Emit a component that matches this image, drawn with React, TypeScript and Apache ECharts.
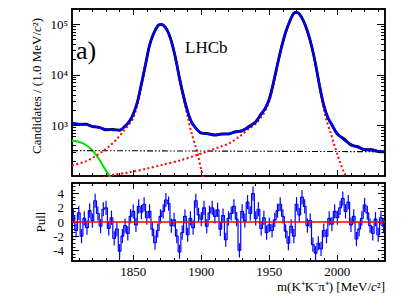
import React, { useEffect, useRef } from "react";
import * as echarts from "echarts";

// ---------- data ----------
const massPoints = [
  1805, 1810, 1815, 1820, 1825, 1830, 1835, 1840, 1844, 1847, 1850, 1853, 1856, 1859, 1862, 1865,
  1868, 1870, 1872, 1875, 1878, 1881, 1884, 1887, 1890, 1893, 1896, 1900, 1905, 1910, 1915, 1920,
  1925, 1930, 1935, 1940, 1944, 1947, 1950, 1953, 1956, 1959, 1962, 1965, 1968, 1970, 1972, 1975,
  1978, 1981, 1984, 1987, 1990, 1993, 1996, 2000, 2005, 2010, 2015, 2020, 2025, 2030, 2035,
];
const fitCounts = [
  1100, 1070, 1030, 970, 900, 840, 810, 820, 950, 1200, 1650, 2900, 6500, 16000, 38000, 66000,
  92000, 100000, 96000, 76000, 46000, 22000, 8500, 3800, 1850, 1150, 870, 720, 670, 655, 665, 690,
  730, 800, 920, 1200, 1650, 2200, 3300, 7000, 16000, 36000, 69000, 115000, 165000, 172000, 160000, 118000,
  72000, 38000, 16000, 6000, 2500, 1450, 1000, 690, 510, 425, 365, 338, 322, 312, 305,
];
const dataCounts = [
  1130, 1050, 1060, 950, 920, 820, 830, 800, 970, 1180, 1680, 2850, 6600, 15800, 38500, 65500,
  92500, 99500, 96500, 75500, 46500, 21800, 8600, 3750, 1880, 1130, 890, 700, 690, 640, 680, 675,
  750, 780, 950, 1170, 1690, 2170, 3350, 6900, 16200, 35600, 69500, 114500, 165500, 171500, 160500, 117500,
  72500, 37600, 16200, 5900, 2530, 1420, 1030, 670, 540, 410, 380, 330, 330, 305, 300,
];
const sigDpMass = [
  1805, 1815, 1821, 1827, 1833, 1838, 1843, 1847, 1850, 1853, 1856, 1859, 1862, 1865, 1868, 1870,
  1872, 1875, 1878, 1881, 1884, 1887, 1890, 1893, 1896, 1898, 1900, 1902,
];
const sigDpCounts = [
  160, 195, 235, 300, 400, 540, 780, 1050, 1400, 2500, 6100, 15500, 37500, 65500, 91500, 99500,
  95500, 75500, 45500, 21500, 8000, 3400, 1450, 680, 370, 230, 130, 88,
];
const sigDsMass = [
  1828, 1835, 1847, 1860, 1871, 1885, 1896, 1905, 1913, 1921, 1928, 1934, 1940, 1944, 1947, 1950,
  1953, 1956, 1959, 1962, 1965, 1968, 1970, 1972, 1975, 1978, 1981, 1984, 1987, 1990, 1992, 1995,
  1997, 2000, 2002, 2004.5, 2007,
];
const sigDsCounts = [
  95, 105, 118, 140, 165, 205, 255, 310, 370, 450, 600, 820, 1080, 1450, 1950, 3000,
  6600, 15600, 35500, 68500, 114500, 164500, 171500, 159500, 117500, 71500, 37500, 15600, 5600, 2100, 1250, 720,
  480, 265, 185, 125, 90,
];
const partRecoMass = [1805, 1810, 1815, 1820, 1824, 1828, 1831, 1834];
const partRecoCounts = [500, 475, 415, 320, 235, 155, 115, 90];
const combMass = [1805, 2035];
const combCounts = [318, 302];

const pullStart = 1805;
const pullBinWidth = 2;
const pullValues = [
  0.8, -1.2, 1.3, -2.0, 0.5, -0.8, 1.6, 0.2, 3.0, 1.2,
  -0.6, 1.8, 2.0, -0.9, 0.6, -2.3, -1.0, -4.1, -2.0, -0.5,
  -1.6, 0.8, 1.5, -0.4, 2.2, 1.4, 2.5, 0.6, 1.5, -1.0,
  -2.9, -1.2, 0.8, 1.5, 3.1, 2.6, -0.5, 0.3, -2.0, -4.2,
  -1.5, 0.8, -1.8, 0.5, -0.8, 3.0, 1.0, 0.4, 2.0, -0.6,
  1.3, 2.0, 0.8, 1.7, -1.0, 0.9, -2.5, 0.5, 1.2, 2.2,
  0.4, -4.0, 1.5, 0.2, 2.8, 1.2, 4.0, 0.5, 1.8, -0.9,
  0.6, -1.5, -0.4, -1.2, 0.3, 1.6, 2.5, 0.8, -1.3, -3.0,
  -0.6, -2.0, 2.5, 1.0, 3.5, 2.2, -0.5, 0.2, -3.2, -4.4,
  -3.0, -3.8, -1.2, -2.0, 0.5, -0.3, 1.5, 0.6, 2.0, 3.3,
  1.5, 2.8, -0.4, 0.8, -2.4, -1.0, 0.5, 2.4, 1.3, -0.5,
  -1.6, 0.4, -1.8, 0.6, -0.6,
];
const pullError = 1;

// tick values
const xMajorTicks = [1850, 1900, 1950, 2000];
const xMinorTicks = [
  1810, 1820, 1830, 1840, 1860, 1870, 1880, 1890, 1910, 1920, 1930, 1940, 1960, 1970, 1980, 1990,
  2010, 2020, 2030,
];
const yLogMajorTicks = [1000, 10000, 100000];
const yLogMinorTicks = [
  200, 300, 400, 500, 600, 700, 800, 900, 2000, 3000, 4000, 5000, 6000, 7000, 8000, 9000,
  20000, 30000, 40000, 50000, 60000, 70000, 80000, 90000, 200000,
];
const pullMajorTicks = [-4, -2, 0, 2, 4];
const pullMinorTicks = [-5, -4.5, -3.5, -3, -2.5, -1.5, -1, -0.5, 0.5, 1, 1.5, 2.5, 3, 3.5, 4.5, 5];

const FONT = "Liberation Serif";
const SUP: Record<number, string> = { 2: "²", 3: "³", 4: "⁴", 5: "⁵" };

function pairs(xs: number[], ys: number[]) {
  return xs.map((x, i) => [x, ys[i]]);
}

function xAxis(gridIndex: number, position: string, ticks: number[], len: number, labels = false) {
  return {
    type: "value",
    gridIndex,
    position,
    min: 1805,
    max: 2035,
    axisLine: { show: true, onZero: false, lineStyle: { color: "#000", width: 1.5 } },
    axisTick: { show: true, inside: true, length: len, customValues: ticks, lineStyle: { color: "#000", width: 1 } },
    axisLabel: {
      show: labels,
      customValues: ticks,
      margin: 4,
      color: "#000",
      fontFamily: FONT,
      fontSize: 13,
      formatter: (v: number) => String(v),
    },
    splitLine: { show: false },
  };
}

function yLog(gridIndex: number, position: string, ticks: number[], len: number, labels = false) {
  return {
    type: "log",
    logBase: 10,
    gridIndex,
    position,
    min: 100,
    max: 200000,
    axisLine: { show: true, onZero: false, lineStyle: { color: "#000", width: 1.5 } },
    axisTick: { show: true, inside: true, length: len, customValues: ticks, lineStyle: { color: "#000", width: 1 } },
    axisLabel: {
      show: labels,
      customValues: ticks,
      margin: 4,
      color: "#000",
      fontFamily: FONT,
      fontSize: 13,
      formatter: (v: number) => "10" + SUP[Math.round(Math.log10(v))],
    },
    splitLine: { show: false },
  };
}

function yPull(gridIndex: number, position: string, ticks: number[], len: number, labels = false) {
  return {
    type: "value",
    gridIndex,
    position,
    min: -5.5,
    max: 5.5,
    axisLine: { show: true, onZero: false, lineStyle: { color: "#000", width: 1.5 } },
    axisTick: { show: true, inside: true, length: len, customValues: ticks, lineStyle: { color: "#000", width: 1 } },
    axisLabel: {
      show: labels,
      customValues: ticks,
      margin: 8,
      color: "#000",
      fontFamily: FONT,
      fontSize: 13,
      formatter: (v: number) => String(v),
    },
    splitLine: { show: false },
  };
}

export default function App() {
  const ref = useRef<HTMLDivElement>(null);
  useEffect(() => {
    document.body.style.margin = "0";
    const chart = echarts.init(ref.current!, null, { renderer: "svg" });
    const topRect = { left: 72, top: 9, width: 313, height: 167 };
    const botRect = { left: 72, top: 183, width: 313, height: 78 };
    const pullData = pullValues.map((v, i) => [pullStart + pullBinWidth * (i + 0.5), v]);
    const redDot = { color: "#ff0000", width: 2, type: [2, 2.5] as number[] };

    chart.setOption({
      animation: false,
      backgroundColor: "#fff",
      grid: [
        { ...topRect, containLabel: false },
        { ...topRect, containLabel: false },
        { ...botRect, containLabel: false },
        { ...botRect, containLabel: false },
      ],
      xAxis: [
        xAxis(0, "bottom", xMajorTicks, 6),
        xAxis(0, "top", xMajorTicks, 6),
        xAxis(1, "bottom", xMinorTicks, 3),
        xAxis(1, "top", xMinorTicks, 3),
        xAxis(2, "bottom", xMajorTicks, 6, true),
        xAxis(2, "top", xMajorTicks, 6),
        xAxis(3, "bottom", xMinorTicks, 3),
        xAxis(3, "top", xMinorTicks, 3),
      ],
      yAxis: [
        yLog(0, "left", yLogMajorTicks, 8, true),
        yLog(0, "right", yLogMajorTicks, 8),
        yLog(1, "left", yLogMinorTicks, 4),
        yLog(1, "right", yLogMinorTicks, 4),
        yPull(2, "left", pullMajorTicks, 7, true),
        yPull(2, "right", pullMajorTicks, 7),
        yPull(3, "left", pullMinorTicks, 3.5),
        yPull(3, "right", pullMinorTicks, 3.5),
      ],
      series: [
        {
          name: "partially reconstructed",
          type: "line",
          xAxisIndex: 0,
          yAxisIndex: 0,
          data: pairs(partRecoMass, partRecoCounts),
          smooth: 0.3,
          symbol: "none",
          lineStyle: { color: "#00e000", width: 2 },
          z: 2,
        },
        {
          name: "combinatorial",
          type: "line",
          xAxisIndex: 0,
          yAxisIndex: 0,
          data: pairs(combMass, combCounts),
          symbol: "none",
          lineStyle: { color: "#000", width: 1.1, type: [6, 2, 1.5, 2, 1.5, 2] },
          z: 2,
        },
        {
          name: "D+ signal",
          type: "line",
          xAxisIndex: 0,
          yAxisIndex: 0,
          data: pairs(sigDpMass, sigDpCounts),
          smooth: 0.3,
          symbol: "none",
          lineStyle: redDot,
          z: 3,
        },
        {
          name: "Ds signal",
          type: "line",
          xAxisIndex: 0,
          yAxisIndex: 0,
          data: pairs(sigDsMass, sigDsCounts),
          smooth: 0.3,
          symbol: "none",
          lineStyle: redDot,
          z: 3,
        },
        {
          name: "data",
          type: "line",
          xAxisIndex: 0,
          yAxisIndex: 0,
          data: pairs(massPoints, dataCounts),
          smooth: 0.3,
          symbol: "none",
          lineStyle: { color: "#000", width: 2.8 },
          z: 4,
        },
        {
          name: "fit",
          type: "line",
          xAxisIndex: 0,
          yAxisIndex: 0,
          data: pairs(massPoints, fitCounts),
          smooth: 0.3,
          symbol: "none",
          lineStyle: { color: "#0000ff", width: 2.2 },
          z: 5,
        },
        {
          name: "pull",
          type: "line",
          xAxisIndex: 4,
          yAxisIndex: 4,
          data: pullData,
          step: "middle",
          symbol: "none",
          lineStyle: { color: "#0000ff", width: 1.2 },
          markLine: {
            silent: true,
            symbol: "none",
            label: { show: false },
            lineStyle: { color: "#ff0000", width: 1.5, type: "solid" },
            data: [{ yAxis: 0 }],
            z: 10,
          },
          z: 4,
        },
        {
          name: "pull errors",
          type: "custom",
          xAxisIndex: 4,
          yAxisIndex: 4,
          data: pullData,
          clip: true,
          renderItem: (params: any, api: any) => {
            const x = api.value(0);
            const v = api.value(1);
            const p1 = api.coord([x, v - pullError]);
            const p2 = api.coord([x, v + pullError]);
            return {
              type: "line",
              shape: { x1: p1[0], y1: p1[1], x2: p2[0], y2: p2[1] },
              style: { stroke: "#0000ff", lineWidth: 1.2 },
            };
          },
          z: 4,
        },
      ],
      graphic: [
        {
          type: "text",
          x: 36,
          y: 86,
          rotation: Math.PI / 2,
          style: {
            text: "Candidates / (1.0 MeV/{i|c}²)",
            fontFamily: FONT,
            fontSize: 13,
            fill: "#000",
            align: "center",
            verticalAlign: "middle",
            rich: { i: { fontFamily: FONT, fontSize: 13, fontStyle: "italic", fill: "#000" } },
          },
        },
        {
          type: "text",
          x: 40,
          y: 222,
          rotation: Math.PI / 2,
          style: {
            text: "Pull",
            fontFamily: FONT,
            fontSize: 13,
            fill: "#000",
            align: "center",
            verticalAlign: "middle",
          },
        },
        {
          type: "text",
          x: 76,
          y: 50,
          style: {
            text: "a)",
            fontFamily: FONT,
            fontSize: 26,
            fill: "#000",
            align: "left",
            verticalAlign: "middle",
          },
        },
        {
          type: "text",
          x: 185,
          y: 47,
          style: {
            text: "LHCb",
            fontFamily: FONT,
            fontSize: 17,
            fill: "#000",
            align: "left",
            verticalAlign: "middle",
          },
        },
        {
          type: "text",
          x: 385,
          y: 286,
          style: {
            text: "m(K⁺K⁻π⁺) [MeV/{i|c}²]",
            fontFamily: FONT,
            fontSize: 13,
            fill: "#000",
            align: "right",
            verticalAlign: "middle",
            rich: { i: { fontFamily: FONT, fontSize: 13, fontStyle: "italic", fill: "#000" } },
          },
        },
      ],
    });
    return () => chart.dispose();
  }, []);
  return <div ref={ref} style={{ width: 409, height: 298 }} />;
}
